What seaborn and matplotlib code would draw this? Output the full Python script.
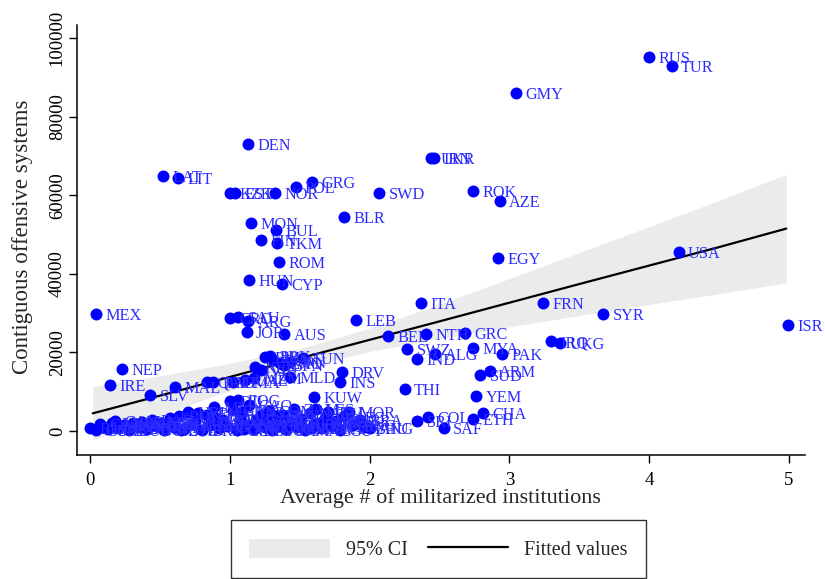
import matplotlib
matplotlib.use("Agg")
import matplotlib.pyplot as plt
import seaborn as sns
import pandas as pd
from matplotlib.patches import Patch
from matplotlib.lines import Line2D

# ---- data ----
countries = [
    "RUS", "TUR", "GMY", "DEN", "UKR", "IRN", "LAT", "LIT", "GRG", "POL",
    "ROK", "KZK", "EST", "NOR", "SWD", "AZE", "BLR", "MON", "BUL", "FIN",
    "TKM", "ROM", "EGY", "USA", "HUN", "CYP", "ITA", "FRN", "SYR", "MEX",
    "CRO", "SAU", "ARG", "LEB", "ISR", "JOR", "AUS", "NTH", "GRC", "BEL",
    "IRQ", "UKG", "MYA", "SWZ", "ALG", "PAK", "IND", "TUN", "NEP", "ARM",
    "DRV", "SUD", "MLD", "INS", "IRE", "MAL", "THI", "SLV", "YEM", "KUW",
    "DJI", "EQG", "QAT", "BAH", "OMA", "UAE", "MZM", "KEN", "VIE", "PHI",
    "PRK", "TAW", "LAO", "SPN", "JPN", "CHA", "ETH", "COL", "SRI", "SAF",
    "ANG", "BRA", "MOR", "GUY",
    "BLZ", "GUA", "HON", "SAL", "NIC", "COS", "PAN", "CUB", "HAI", "DOM",
    "JAM", "TRI", "BAR", "GRN", "SUR", "SIE", "ECU", "PER", "BOL", "PAR",
    "URU", "CHL", "VEN", "BRN", "GHA", "SEN", "MLI", "BFO", "NIR", "GAM",
    "GNB", "GUI", "LBR", "TOG", "BEN", "CAO", "NIG", "GAB", "CEN", "CON",
    "DRC", "UGA", "TAZ", "RWA", "BUI", "SOM", "ERI", "ZAM", "ZIM", "MAW",
    "MAG", "NAM", "BOT", "LES", "SWA", "LIB", "TAJ", "KYR", "UZB", "AFG",
    "BNG", "BHU", "CAN", "CAM", "PNG", "FIJ", "NEW", "MAA", "COM", "CAP",
    "MAS", "STL", "DMA",
]
institutions = [
    4.00, 4.16, 3.05, 1.13, 2.44, 2.46, 0.52, 0.63, 1.59, 1.47,
    2.74, 1.00, 1.04, 1.32, 2.07, 2.93, 1.82, 1.15, 1.33, 1.22,
    1.34, 1.35, 2.92, 4.21, 1.14, 1.37, 2.37, 3.24, 3.67, 0.04,
    1.00, 1.06, 1.13, 1.90, 4.99, 1.12, 1.39, 2.40, 2.68, 2.13,
    3.30, 3.36, 2.74, 2.27, 2.47, 2.95, 2.34, 1.52, 0.23, 2.86,
    1.80, 2.79, 1.43, 1.79, 0.14, 0.61, 2.25, 0.43, 2.76, 1.60,
    1.00, 1.06, 0.84, 0.88, 1.02, 1.11, 1.17, 1.18, 1.22, 1.25,
    1.29, 1.31, 1.36, 1.39, 1.43, 2.81, 2.74, 2.42, 2.34, 2.53,
    2.00, 1.93, 1.85, 1.79,
    0.00, 0.04, 0.09, 0.13, 0.16, 0.20, 0.24, 0.28, 0.31, 0.35,
    0.37, 0.41, 0.44, 0.47, 0.50, 0.53, 0.57, 0.60, 0.64, 0.67,
    0.70, 0.73, 0.77, 0.80, 0.84, 0.86, 0.89, 0.92, 0.95, 0.98,
    1.02, 1.05, 1.07, 1.09, 1.12, 1.14, 1.17, 1.19, 1.22, 1.25,
    1.27, 1.30, 1.32, 1.35, 1.38, 1.40, 1.43, 1.46, 1.48, 1.51,
    1.54, 1.57, 1.60, 1.62, 1.65, 1.68, 1.70, 1.73, 1.76, 1.82,
    1.88, 1.97, 0.07, 0.18, 0.33, 0.55, 0.75, 1.10, 1.28, 1.58,
    1.66, 0.65, 0.90,
]
offensive = [
    95200, 92900, 86000, 73000, 69500, 69400, 64900, 64400, 63400, 62100,
    61100, 60600, 60600, 60600, 60600, 58500, 54500, 52900, 51200, 48600,
    47900, 43000, 44000, 45600, 38400, 37400, 32600, 32600, 29800, 29800,
    28800, 29000, 28000, 28200, 27000, 25200, 24700, 24700, 24900, 24200,
    22900, 22400, 21100, 20900, 19600, 19600, 18300, 18600, 15800, 15300,
    15000, 14300, 13700, 12500, 11700, 11200, 10700, 9200, 8900, 8700,
    7600, 8000, 12500, 12500, 12500, 13000, 13500, 16300, 15500, 18800,
    19100, 18100, 17300, 16800, 17600, 4600, 3050, 3560, 2550, 760,
    760, 2800, 4840, 250,
    700, 300, 1000, 400, 2000, 800, 1500, 300, 2000, 900,
    2300, 500, 2800, 1300, 2000, 200, 3300, 1100, 3800, 500,
    4800, 1800, 4500, 300, 4000, 1500, 6100, 700, 2700, 1200,
    5300, 300, 3000, 4800, 1600, 6600, 400, 2800, 4000, 1000,
    2500, 200, 3800, 1300, 4200, 600, 2400, 5600, 900, 3000,
    200, 4500, 1700, 5500, 700, 3200, 4800, 1200, 2600, 3700,
    1500, 900, 1800, 2600, 1200, 1900, 2400, 400, 5200, 800,
    2200, 300, 3200,
]

# fitted line and 95% CI band
fit_x = [0.02, 0.5, 1.0, 1.5, 2.0, 2.5, 3.0, 3.5, 4.0, 4.5, 4.98]
fit_y = [4500, 9000, 13750, 18500, 23200, 27900, 32650, 37400, 42100, 46800, 51500]
ci_lo = [-2300, 3950, 10300, 16000, 20250, 23550, 26500, 29400, 32200, 34950, 37700]
ci_hi = [11300, 14050, 17200, 21000, 26150, 32250, 38800, 45400, 52000, 58700, 65300]

legend_labels = ["95% CI", "Fitted values"]
x_label = "Average # of militarized institutions"
y_label = "Contiguous offensive systems"
x_ticks = [0, 1, 2, 3, 4, 5]
y_ticks = [0, 20000, 40000, 60000, 80000, 100000]

df = pd.DataFrame({"country": countries, "inst": institutions, "off": offensive})
fit = pd.DataFrame({"x": fit_x, "y": fit_y, "lo": ci_lo, "hi": ci_hi})

sns.set_style("ticks")
plt.rcParams["font.family"] = ["Liberation Serif", "DejaVu Serif"]

fig = plt.figure(figsize=(8.25, 5.79), dpi=100)
ax = fig.add_axes([77 / 825, 1 - 455 / 579, (805 - 77) / 825, (455 - 25) / 579])

band_color = "#ebebeb"
ax.fill_between(fit["x"], fit["lo"], fit["hi"], color=band_color, linewidth=0, zorder=1)
sns.lineplot(data=fit, x="x", y="y", color="black", linewidth=1.6, ax=ax, zorder=2)
sns.scatterplot(data=df, x="inst", y="off", color="#0000ff", s=74, linewidth=0,
                ax=ax, zorder=3, legend=False)
for c, xv, yv in zip(df["country"], df["inst"], df["off"]):
    ax.annotate(c, (xv, yv), xytext=(6.8, -1.5), textcoords="offset points",
                ha="left", va="center", fontsize=11.7, color="#2b2bff", zorder=4,
                annotation_clip=False)

ax.set_xlim(-0.093, 5.114)
ax.set_ylim(-6100, 103300)
ax.set_xticks(x_ticks)
ax.set_yticks(y_ticks)
ax.set_xticklabels([str(t) for t in x_ticks])
ax.set_yticklabels([str(t) for t in y_ticks])
for lbl in ax.get_yticklabels():
    lbl.set_rotation(90)
    lbl.set_va("center")
ax.tick_params(axis="both", direction="out", length=6, width=1, labelsize=13.5,
               colors="black")
ax.tick_params(axis="x", pad=6)
ax.tick_params(axis="y", pad=2)
sns.despine(ax=ax)
for s in ["left", "bottom"]:
    ax.spines[s].set_color("black")
    ax.spines[s].set_linewidth(1.1)

ax.set_xlabel(x_label, fontsize=16)
ax.set_ylabel(y_label, fontsize=16.5)
ax.xaxis.set_label_coords(0.4986, -0.078)
ax.yaxis.set_label_coords(-0.06, 0.507)

handles = [Patch(facecolor=band_color, edgecolor="none", label=legend_labels[0]),
           Line2D([], [], color="black", linewidth=1.6, label=legend_labels[1])]
leg = fig.legend(handles=handles, loc="lower center", bbox_to_anchor=(438.5 / 825, -0.016),
                 ncol=2, frameon=True, fancybox=False, edgecolor="black", fontsize=14.5,
                 handlelength=4.0, handleheight=1.1, columnspacing=1.0,
                 handletextpad=0.8, borderpad=0.9)
leg.get_frame().set_linewidth(1.0)
leg.get_frame().set_facecolor("white")

fig.savefig("out.png", dpi=100)
